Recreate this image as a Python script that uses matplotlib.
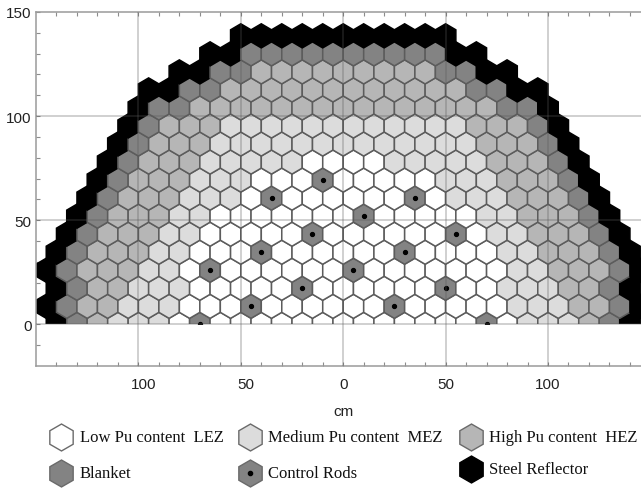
import numpy as np
import matplotlib
matplotlib.use("Agg")
import matplotlib.pyplot as plt
from matplotlib.patches import RegularPolygon, Rectangle
from matplotlib.lines import Line2D
from matplotlib.transforms import ScaledTranslation

kPitch = 10.0
kRowHeight = 8.66

# leftmost cell centre of each row, row 0 sits on y=0
row_start = [-140, -145, -140, -145, -140, -135, -130, -125, -120,
             -115, -110, -105, -100, -95, -80, -65, -50]
# S steel, B blanket, H high Pu, M medium Pu, L low Pu, C control rod
row_cells = [
    "SBHMMMLCLLLLLLLLLLLLLCLMMMHBS",
    "SBHHMMMLLLCLLLLLLCLLLLLMMMHHBS",
    "SBHHMMMLLLLLCLLLLLLCLLMMMHHBS",
    "SBHHHMMLCLLLLLLCLLLLLLLMMHHHBS",
    "SBHHHMMLLLCLLLLLLCLLLLMMHHHBS",
    "SBHHHMMLLLLLCLLLLLLCLMMHHHBS",
    "SBHHHMMLLLLLLLCLLLLLMMHHHBS",
    "SBHHHMMMLCLLLLLLCLMMMHHHBS",
    "SBHHHMMMLLLCLLLLLMMMHHHBS",
    "SBHHHMMMMMLLLLMMMMMHHHBS",
    "SBHHHMMMMMMMMMMMMMHHHBS",
    "SBHHHMMMMMMMMMMMMHHHBS",
    "SBBHHHHHHHHHHHHHHHBBS",
    "SSBBHHHHHHHHHHHHBBSS",
    "SSBBHHHHHHHHHBBSS",
    "SSBBBBBBBBBBSS",
    "SSSSSSSSSSS",
]
zone_colors = {"L": "#ffffff", "M": "#dcdcdc", "H": "#b6b6b6",
               "B": "#838383", "C": "#838383", "S": "#000000"}

legend_labels = ["Low Pu content  LEZ", "Medium Pu content  MEZ", "High Pu content  HEZ",
                 "Blanket", "Control Rods", "Steel Reflector"]
legend_zones = ["L", "M", "H", "B", "C", "S"]

x_ticks = [-100, -50, 0, 50, 100]
y_ticks = [0, 50, 100, 150]

W, H = 641, 489
fig = plt.figure(figsize=(W / 100, H / 100), dpi=100)
ax = fig.add_axes([36 / W, 1 - 367 / H, (W - 36) / W, 354 / H])
ax.set_xlim(-150, 145.4)
ax.set_ylim(-20, 150)

clip = Rectangle((-150, 0), 300, 150, transform=ax.transData)
radius = kPitch / np.sqrt(3)
for row, cells in enumerate(row_cells):
    y = row * kRowHeight
    for i, c in enumerate(cells):
        x = row_start[row] + i * kPitch
        edge = "#000000" if c == "S" else "#5c5c5c"
        hexagon = RegularPolygon((x, y), 6, radius=radius, facecolor=zone_colors[c],
                                 edgecolor=edge, linewidth=1.1, zorder=2)
        ax.add_patch(hexagon)
        hexagon.set_clip_path(clip)
        if c == "C":
            dot = ax.plot([x], [y], "o", color="black", ms=2.8, zorder=3)[0]
            dot.set_clip_path(clip)

# grid shows faintly through the cells
for v in x_ticks:
    ax.axvline(v, color="#5a5a5a", alpha=0.3, lw=1.3, zorder=4)
for v in y_ticks[:-1]:
    ax.axhline(v, color="#5a5a5a", alpha=0.3, lw=1.3, zorder=4)

ax.set_xticks(x_ticks)
ax.set_yticks(y_ticks)
ax.set_xticks(np.arange(-140, 146, 10), minor=True)
ax.set_yticks(np.arange(-10, 150, 10), minor=True)
ax.set_xticklabels([str(abs(v)) for v in x_ticks], family="Liberation Sans", fontsize=11, color="#222222")
ax.set_yticklabels([str(v) for v in y_ticks], family="Liberation Sans", fontsize=11, color="#222222")
ax.tick_params(axis="both", which="both", direction="in", color="#8c8c8c", width=0.8)
ax.tick_params(axis="x", which="major", length=3, top=True, pad=8)
ax.tick_params(axis="x", which="minor", length=3, top=True)
ax.tick_params(axis="y", which="major", length=3, pad=3)
ax.tick_params(axis="y", which="minor", length=3)
for s in ["top", "bottom", "left"]:
    ax.spines[s].set_color("#9a9a9a")
    ax.spines[s].set_linewidth(1.1)
ax.spines["right"].set_visible(False)

# the negative side labels sit a bit right of their grid lines
shift = ScaledTranslation(5.5 / 100, 0, fig.dpi_scale_trans)
for v, lbl in zip(x_ticks, ax.get_xticklabels()):
    if v < 0:
        lbl.set_transform(lbl.get_transform() + shift)

fig.text(343 / W, 1 - 412 / H, "cm", family="Liberation Sans", fontsize=11,
         color="#222222", ha="center", va="center")

hex_x = [61, 250, 471, 61, 250, 471]
hex_y = [438, 438, 438, 474, 474, 470]
text_x = [80, 268, 489, 80, 268, 489]
for i in range(len(legend_labels)):
    z = legend_zones[i]
    px, py = hex_x[i] / W, 1 - hex_y[i] / H
    edge = "#000000" if z == "S" else "#6a6a6a"
    fig.add_artist(Line2D([px], [py], marker="h", ms=19.4, mfc=zone_colors[z], mec=edge,
                          mew=1.0, ls="none", transform=fig.transFigure))
    if z == "C":
        fig.add_artist(Line2D([px], [py], marker="o", ms=3, color="black", ls="none",
                              transform=fig.transFigure))
    fig.text(text_x[i] / W, py, legend_labels[i], family="Liberation Serif", fontsize=12,
             color="#111111", ha="left", va="center")

fig.savefig("out.png", dpi=100)
